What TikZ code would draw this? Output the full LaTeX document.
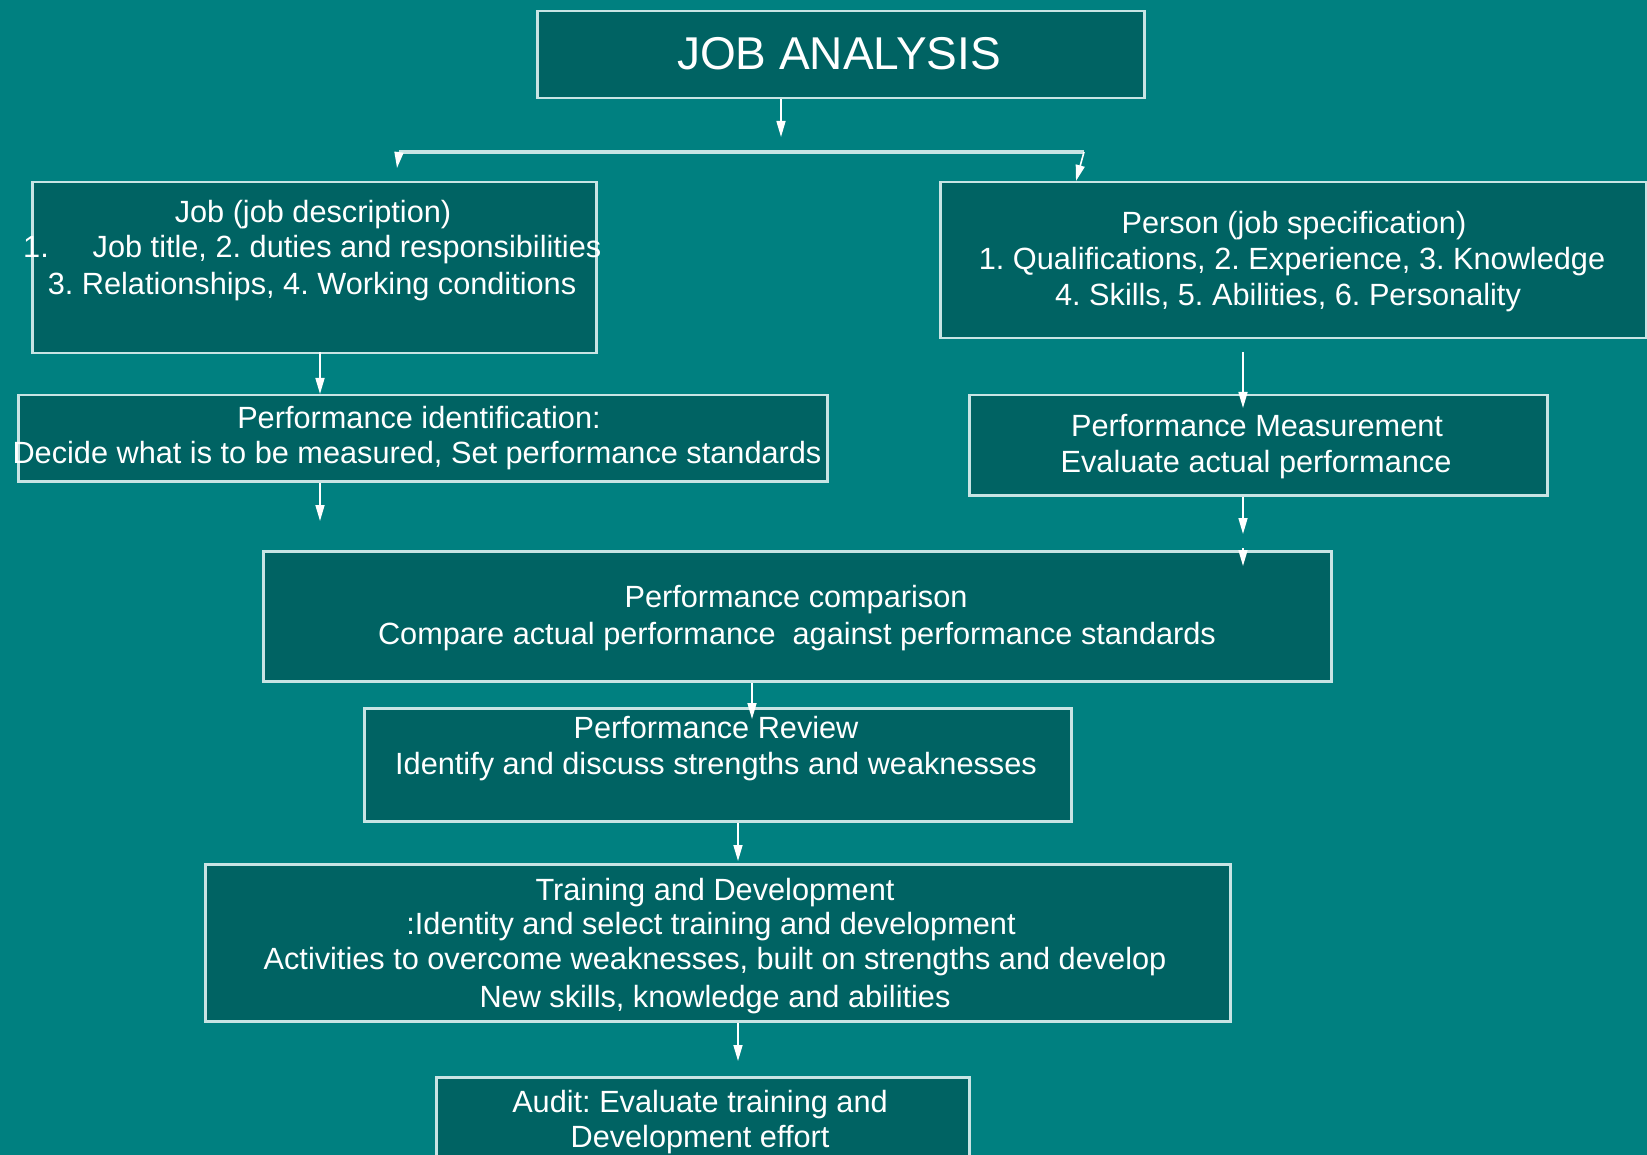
\documentclass[tikz,border=0pt]{standalone}
\usepackage{fontspec}
\setmainfont{Liberation Sans}
\usetikzlibrary{arrows.meta}
\frenchspacing
\definecolor{bgteal}{RGB}{0,128,128}
\definecolor{boxteal}{RGB}{0,99,99}
\definecolor{edgecol}{RGB}{200,228,228}
\tikzset{
  box/.style={draw=edgecol, line width=2.5pt, fill=boxteal, inner sep=0pt, anchor=north west},
  txt/.style={text=white, font=\fontsize{30.7}{36}\selectfont, inner sep=0pt, anchor=base},
  bigtxt/.style={text=white, font=\fontsize{46}{52}\selectfont, inner sep=0pt, anchor=base},
  arr/.style={draw=white, line width=1.6pt, -{Triangle[length=16pt,width=9pt]}},
  bar/.style={draw=edgecol, line width=4pt},
}
\begin{document}
\begin{tikzpicture}[x=1pt,y=-1pt]
\useasboundingbox[fill=bgteal] (0,0) rectangle (1647,1155);

% boxes
\node[box, minimum width=607pt, minimum height=87pt]  (ja)  at (536,10) {};
\node[box, minimum width=564pt, minimum height=171pt] (job) at (31,181) {};
\node[box, minimum width=706pt, minimum height=156pt] (per) at (939,181) {};
\node[box, minimum width=809pt, minimum height=86pt]  (pid) at (17,394) {};
\node[box, minimum width=578pt, minimum height=100pt] (pm)  at (968,394) {};
\node[box, minimum width=1068pt, minimum height=130pt] (pc) at (262,550) {};
\node[box, minimum width=707pt, minimum height=113pt] (pr)  at (363,707) {};
\node[box, minimum width=1025pt, minimum height=157pt] (td) at (204,863) {};
\node[box, minimum width=533pt, minimum height=100pt] (au)  at (435,1076) {};

% texts
\node[bigtxt] (jat) at (839,70) {JOB ANALYSIS};

\node[txt] (jobt1) at (313,223) {Job (job description)};
\node[txt, anchor=base west] (jobn) at (23,258) {1.};
\node[txt] (jobt2) at (347,258) {Job title, 2. duties and responsibilities};
\node[txt] (jobt3) at (312,295) {3. Relationships, 4. Working conditions};

\node[txt] (pert1) at (1294,234) {Person (job specification)};
\node[txt] (pert2) at (1292,270) {1. Qualifications, 2. Experience, 3. Knowledge};
\node[txt] (pert3) at (1288,306) {4. Skills, 5. Abilities, 6. Personality};

\node[txt] (pidt1) at (419,429) {Performance identification:};
\node[txt] (pidt2) at (417,464) {Decide what is to be measured, Set performance standards};

\node[txt] (pmt1) at (1257,437) {Performance Measurement};
\node[txt] (pmt2) at (1256,472) {Evaluate actual performance};

\node[txt] (pct1) at (796,607) {Performance comparison};
\node[txt] (pct2) at (797,644) {Compare actual performance~ against performance standards};

\node[txt] (prt1) at (716,738) {Performance Review};
\node[txt] (prt2) at (716,774) {Identify and discuss strengths and weaknesses};

\node[txt] (tdt1) at (715,900) {Training and Development};
\node[txt] (tdt2) at (711,934) {:Identity and select training and development};
\node[txt] (tdt3) at (715,969) {Activities to overcome weaknesses, built on strengths and develop};
\node[txt] (tdt4) at (715,1007) {New skills, knowledge and abilities};

\node[txt] (aut1) at (700,1112) {Audit: Evaluate training and};
\node[txt] (aut2) at (700,1147) {Development effort};

% connector coordinates
\coordinate (c1) at (781,137);
\coordinate (bl) at (399,152);
\coordinate (br) at (1084,152);
\coordinate (blend) at (397,168);
\coordinate (brend) at (1076,181);
\coordinate (j1) at (320,352);
\coordinate (j2) at (320,521);
\coordinate (p1) at (1243,352);
\coordinate (p2) at (1243,408);
\coordinate (p3) at (1243,534);
\coordinate (p4) at (1243,548);
\coordinate (p5) at (1243,566);
\coordinate (r1) at (752,719);
\coordinate (t1) at (738,861);
\coordinate (a1) at (738,1061);

% connectors
\draw[arr] (ja.south -| c1) -- (c1);
\draw[bar] (bl) -- (br);
\draw[arr] (bl) -- (blend);
\draw[arr] (br) -- (brend);
\draw[arr] (j1) -- (pid.north -| j1);
\draw[arr] (pid.south -| j1) -- (j2);
\draw[arr] (p1) -- (p2);
\draw[arr] (pm.south -| p1) -- (p3);
\draw[arr] (p4) -- (p5);
\draw[arr] (pc.south -| r1) -- (r1);
\draw[arr] (pr.south -| t1) -- (t1);
\draw[arr] (td.south -| a1) -- (a1);
\end{tikzpicture}
\end{document}
